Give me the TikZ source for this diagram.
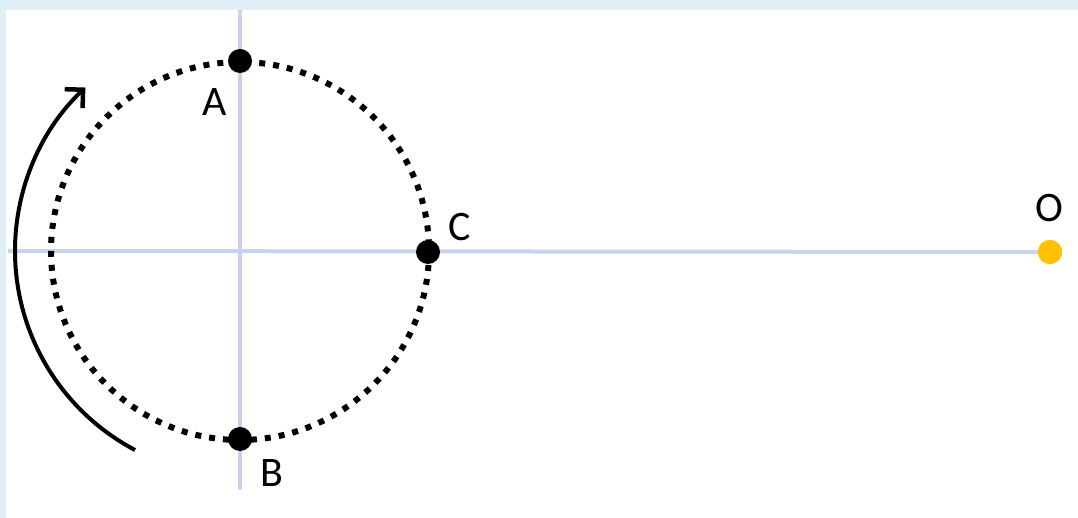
\documentclass[tikz,border=0pt]{standalone}
\usepackage{fontspec}
\setmainfont{Carlito}
\usetikzlibrary{arrows.meta}
\definecolor{bgblue}{HTML}{DEEFF6}
\definecolor{axisblue}{HTML}{C7D3EE}
\definecolor{gold}{HTML}{FFC000}
\tikzset{
  axisline/.style={draw=axisblue, line width=4pt},
  dotcircle/.style={draw=black, line width=6pt, dash pattern=on 6pt off 8pt},
  pt/.style={circle, fill=black, inner sep=0pt, minimum size=24pt},
  ptgold/.style={circle, fill=gold, inner sep=0pt, minimum size=24pt},
  lbl/.style={font=\fontsize{42}{42}\selectfont, inner sep=0pt, text=black},
  arrowline/.style={draw=black, line width=4pt, -{Straight Barb[length=13pt,width=26pt,line width=4.5pt]}}
}
\begin{document}
\begin{tikzpicture}[x=1pt,y=-1pt]
\fill[bgblue] (0,0) rectangle (1078,518);
\fill[white] (6,10) rectangle (1078,518);
\useasboundingbox (0,0) rectangle (1078,518);
\coordinate (ctr) at (240,251);
\coordinate (L) at (8,251);
\coordinate (T) at (240,10);
\coordinate (Bt) at (240,490);
\node[ptgold] (O) at (1050,252) {};
\draw[axisline] (L) -- (O.center);
\draw[axisline] (T) -- (Bt);
\draw[dotcircle] (ctr) circle[radius=189];
\node[pt] (A) at (240,61) {};
\node[pt] (B) at (240,439) {};
\node[pt] (C) at (428,252) {};
\node[ptgold] at (O) {};
\node[lbl] (la) at (215,102) {A};
\node[lbl] (lb) at (272,473) {B};
\node[lbl] (lc) at (460,227) {C};
\node[lbl] (lo) at (1049,208) {O};
\draw[arrowline] ([shift={(117.8:225)}]ctr) arc[start angle=117.8, end angle=226.6, radius=225];
\end{tikzpicture}
\end{document}
